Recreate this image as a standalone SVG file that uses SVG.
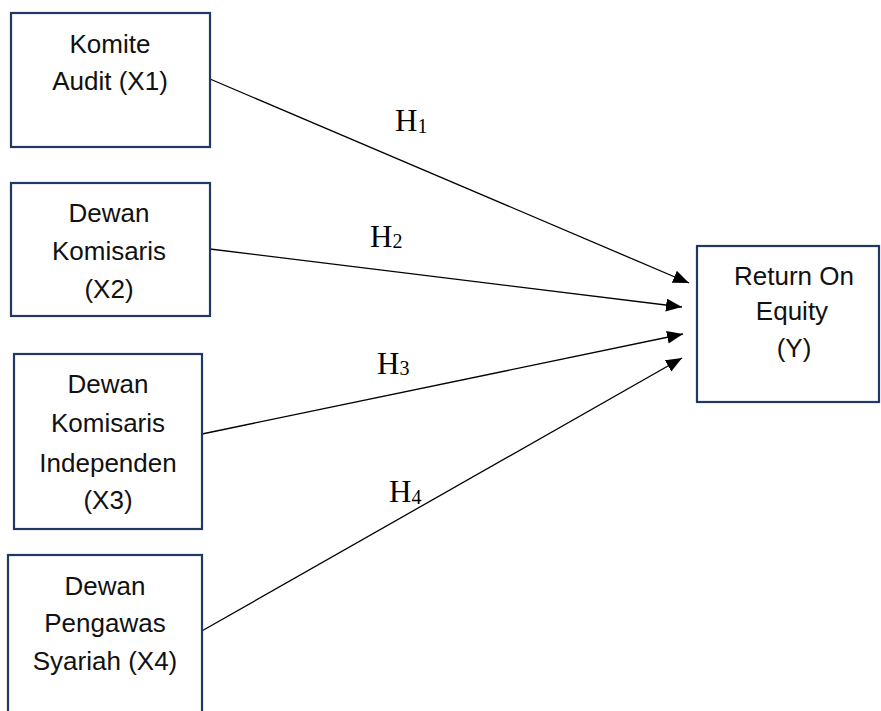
<svg xmlns="http://www.w3.org/2000/svg" width="881" height="711" viewBox="0 0 881 711">
<defs>
<marker id="arr" markerUnits="userSpaceOnUse" markerWidth="17" markerHeight="14" refX="16" refY="6.5" orient="auto">
<path d="M0,0 L16,6.5 L0,13 z" fill="#000"/>
</marker>
<style>
.box{fill:#fff;stroke:#1f3864;stroke-width:2.2}
.t{font-family:"Liberation Sans",Arial,sans-serif;font-size:26px;fill:#111;text-anchor:middle}
.h{font-family:"Liberation Serif","Times New Roman",serif;font-size:31px;fill:#000}
.s{font-size:20px}
.c{stroke:#000;stroke-width:1.3;fill:none;marker-end:url(#arr)}
</style>
</defs>
<rect width="881" height="711" fill="#fff"/>
<g id="connectors">
<line class="c" x1="210" y1="79" x2="689" y2="283"/>
<line class="c" x1="210" y1="249" x2="682" y2="307"/>
<line class="c" x1="202" y1="434" x2="683" y2="334"/>
<line class="c" x1="200" y1="632" x2="682" y2="358"/>
<text class="h" x="395" y="131">H<tspan class="s" dy="2">1</tspan></text>
<text class="h" x="370" y="247">H<tspan class="s" dy="1">2</tspan></text>
<text class="h" x="377" y="374">H<tspan class="s" dy="1">3</tspan></text>
<text class="h" x="389" y="502">H<tspan class="s" dy="2">4</tspan></text>
</g>
<g id="x1">
<rect class="box" x="11" y="13" width="199" height="134"/>
<text class="t" x="110" y="53">Komite</text>
<text class="t" x="110" y="90">Audit (X1)</text>
</g>
<g id="x2">
<rect class="box" x="11" y="183" width="199" height="133"/>
<text class="t" x="109" y="222">Dewan</text>
<text class="t" x="109" y="260">Komisaris</text>
<text class="t" x="109" y="298">(X2)</text>
</g>
<g id="x3">
<rect class="box" x="14" y="354" width="188" height="175"/>
<text class="t" x="108" y="393">Dewan</text>
<text class="t" x="108" y="432">Komisaris</text>
<text class="t" x="108" y="472">Independen</text>
<text class="t" x="108" y="509">(X3)</text>
</g>
<g id="x4">
<rect class="box" x="8" y="555" width="194" height="170"/>
<text class="t" x="105" y="595">Dewan</text>
<text class="t" x="105" y="632">Pengawas</text>
<text class="t" x="105" y="670">Syariah (X4)</text>
</g>
<g id="y">
<rect class="box" x="697" y="246" width="182" height="156"/>
<text class="t" x="794" y="285">Return On</text>
<text class="t" x="792" y="320">Equity</text>
<text class="t" x="794" y="357">(Y)</text>
</g>
</svg>
